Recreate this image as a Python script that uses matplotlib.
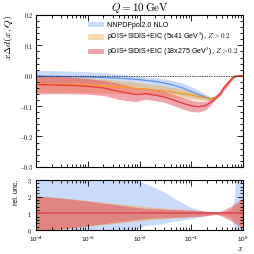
import matplotlib
matplotlib.use("Agg")
import matplotlib.pyplot as plt
import numpy as np
from matplotlib.patches import Patch
from matplotlib.ticker import MultipleLocator, FormatStrFormatter, LogLocator

plt.rcParams['mathtext.fontset'] = 'cm'
plt.rcParams['font.family'] = ['Liberation Sans', 'DejaVu Sans']

# x grid
x = [1e-4, 2e-4, 5e-4, 1e-3, 2e-3, 4e-3, 6e-3, 8.5e-3, 1.3e-2, 2e-2, 3e-2, 4.5e-2, 7e-2,
     0.1, 0.14, 0.19, 0.24, 0.3, 0.36, 0.43, 0.5, 0.58, 0.66, 0.75, 0.85, 1.0]

# NNPDFpol2.0 NLO: central value and band edges
nnpdf_c = [-0.001, -0.0015, -0.003, -0.004, -0.006, -0.008, -0.010, -0.012, -0.015, -0.019,
           -0.024, -0.031, -0.041, -0.052, -0.062, -0.071, -0.076, -0.070, -0.058, -0.040,
           -0.026, -0.012, -0.003, -0.0008, -0.0004, -0.0002]
nnpdf_lo = [-0.022, -0.022, -0.023, -0.024, -0.026, -0.029, -0.032, -0.036, -0.042, -0.048,
            -0.055, -0.060, -0.066, -0.071, -0.076, -0.080, -0.080, -0.073, -0.062, -0.044,
            -0.030, -0.015, -0.005, -0.003, -0.003, -0.003]
nnpdf_hi = [0.018, 0.017, 0.015, 0.013, 0.010, 0.006, 0.003, -0.001, -0.004, -0.006,
            -0.010, -0.016, -0.025, -0.036, -0.048, -0.061, -0.071, -0.067, -0.054, -0.036,
            -0.022, -0.009, -0.001, 0.0015, 0.0015, 0.0015]

# pDIS+SIDIS+EIC (5x41): central value and relative half-width
eic5_c = [-0.026, -0.027, -0.029, -0.031, -0.034, -0.037, -0.039, -0.041, -0.044, -0.047,
          -0.050, -0.054, -0.059, -0.064, -0.069, -0.073, -0.076, -0.070, -0.058, -0.040,
          -0.026, -0.012, -0.003, -0.0008, -0.0004, -0.0002]
eic5_r = [1.05, 0.98, 0.88, 0.78, 0.68, 0.58, 0.52, 0.47, 0.42, 0.37, 0.33, 0.29, 0.25,
          0.21, 0.17, 0.12, 0.08, 0.06, 0.08, 0.12, 0.18, 0.25, 0.35, 0.5, 0.7, 0.9]

# pDIS+SIDIS+EIC (18x275): central value and relative half-width
eic18_c = [-0.029, -0.030, -0.032, -0.035, -0.040, -0.052, -0.057, -0.062, -0.059, -0.064,
           -0.070, -0.080, -0.091, -0.099, -0.102, -0.098, -0.087, -0.073, -0.059, -0.038,
           -0.026, -0.014, -0.005, -0.0015, -0.0006, -0.0002]
eic18_r = [1.05, 0.97, 0.85, 0.74, 0.62, 0.5, 0.44, 0.37, 0.31, 0.28, 0.25, 0.23, 0.21,
           0.19, 0.17, 0.14, 0.1, 0.06, 0.12, 0.22, 0.33, 0.43, 0.55, 0.65, 0.8, 0.9]

labels = ['NNPDFpol2.0 NLO',
          r'pDIS+SIDIS+EIC (5x41 GeV$^2$), $Z > 0.2$',
          r'pDIS+SIDIS+EIC (18x275 GeV$^2$), $Z > 0.2$']
band_cols = ['#8ab0f5', '#f5a030', '#e34a5a']
band_alpha = [0.45, 0.4, 0.5]
line_cols = ['#5b8ff0', '#f39a1f', '#e8343f']

xs = np.array(x)
sets = []
c = np.array(nnpdf_c)
sets.append((c, np.array(nnpdf_lo), np.array(nnpdf_hi)))
for cc, rr in [(eic5_c, eic5_r), (eic18_c, eic18_r)]:
    cc = np.array(cc); rr = np.array(rr)
    sets.append((cc, cc * (1 + rr), cc * (1 - rr)))

fig = plt.figure(figsize=(2.54, 2.54), dpi=100)
ax1 = fig.add_axes([0.142, 0.343, 0.815, 0.598])
ax2 = fig.add_axes([0.142, 0.094, 0.815, 0.197])

for i, (cc, lo, hi) in enumerate(sets):
    ax1.fill_between(xs, lo, hi, color=band_cols[i], alpha=band_alpha[i], lw=0)
    r1 = np.clip(lo / cc, -1, 5)
    r2 = np.clip(hi / cc, -1, 5)
    ax2.fill_between(xs, np.minimum(r1, r2), np.maximum(r1, r2), color=band_cols[i],
                     alpha=band_alpha[i], lw=0)
for i, (cc, lo, hi) in enumerate(sets):
    ax1.plot(xs, cc, color=line_cols[i], lw=0.9)
ax2.plot(xs, np.ones_like(xs), color='#e0505a', lw=1.3)
ax1.axhline(0, color='k', ls='--', lw=0.5, dashes=(2, 1.5))

ax1.set_xscale('log')
ax2.set_xscale('log')
ax1.set_xlim(1e-4, 1)
ax2.set_xlim(1e-4, 1)
ax1.set_ylim(-0.3, 0.2)
ax2.set_ylim(0, 3)

ax1.yaxis.set_major_locator(MultipleLocator(0.1))
ax1.yaxis.set_minor_locator(MultipleLocator(0.02))
ax1.yaxis.set_major_formatter(FormatStrFormatter('$%.1f$'))
ax2.yaxis.set_major_locator(MultipleLocator(1))
ax2.yaxis.set_minor_locator(MultipleLocator(0.2))
ax2.yaxis.set_major_formatter(FormatStrFormatter('$%d$'))
for ax in (ax1, ax2):
    ax.xaxis.set_major_locator(LogLocator(base=10, numticks=10))
    ax.xaxis.set_minor_locator(LogLocator(base=10, subs=np.arange(2, 10), numticks=10))
    ax.tick_params(which='both', direction='in', top=True, right=True, labelsize=4.5,
                   width=0.6, pad=2)
    ax.tick_params(which='major', length=4)
    ax.tick_params(which='minor', length=2)
    for s in ax.spines.values():
        s.set_linewidth(0.8)
ax1.tick_params(labelbottom=False)
ax2.tick_params(axis='x', pad=3.5)
ax2.tick_params(axis='y', pad=3)

ax1.set_title(r'$Q = 10\,\mathrm{GeV}$', fontsize=8, pad=2)
ax1.set_ylabel(r'$x\Delta d(x,Q)$', fontsize=7, loc='top', labelpad=3)
ax2.set_ylabel('rel. unc.', fontsize=5, loc='top', labelpad=5)
ax2.set_xlabel('$x$', fontsize=6, loc='right', labelpad=0.5)

handles = [Patch(color=band_cols[i], alpha=band_alpha[i], lw=0) for i in range(3)]
ax1.legend(handles, labels, loc='upper left', bbox_to_anchor=(0.235, 0.975), frameon=False,
           fontsize=5.1, handlelength=2.3, handleheight=0.8, labelspacing=0.35,
           handletextpad=0.5, borderaxespad=0)

fig.savefig('out.png', dpi=100)
